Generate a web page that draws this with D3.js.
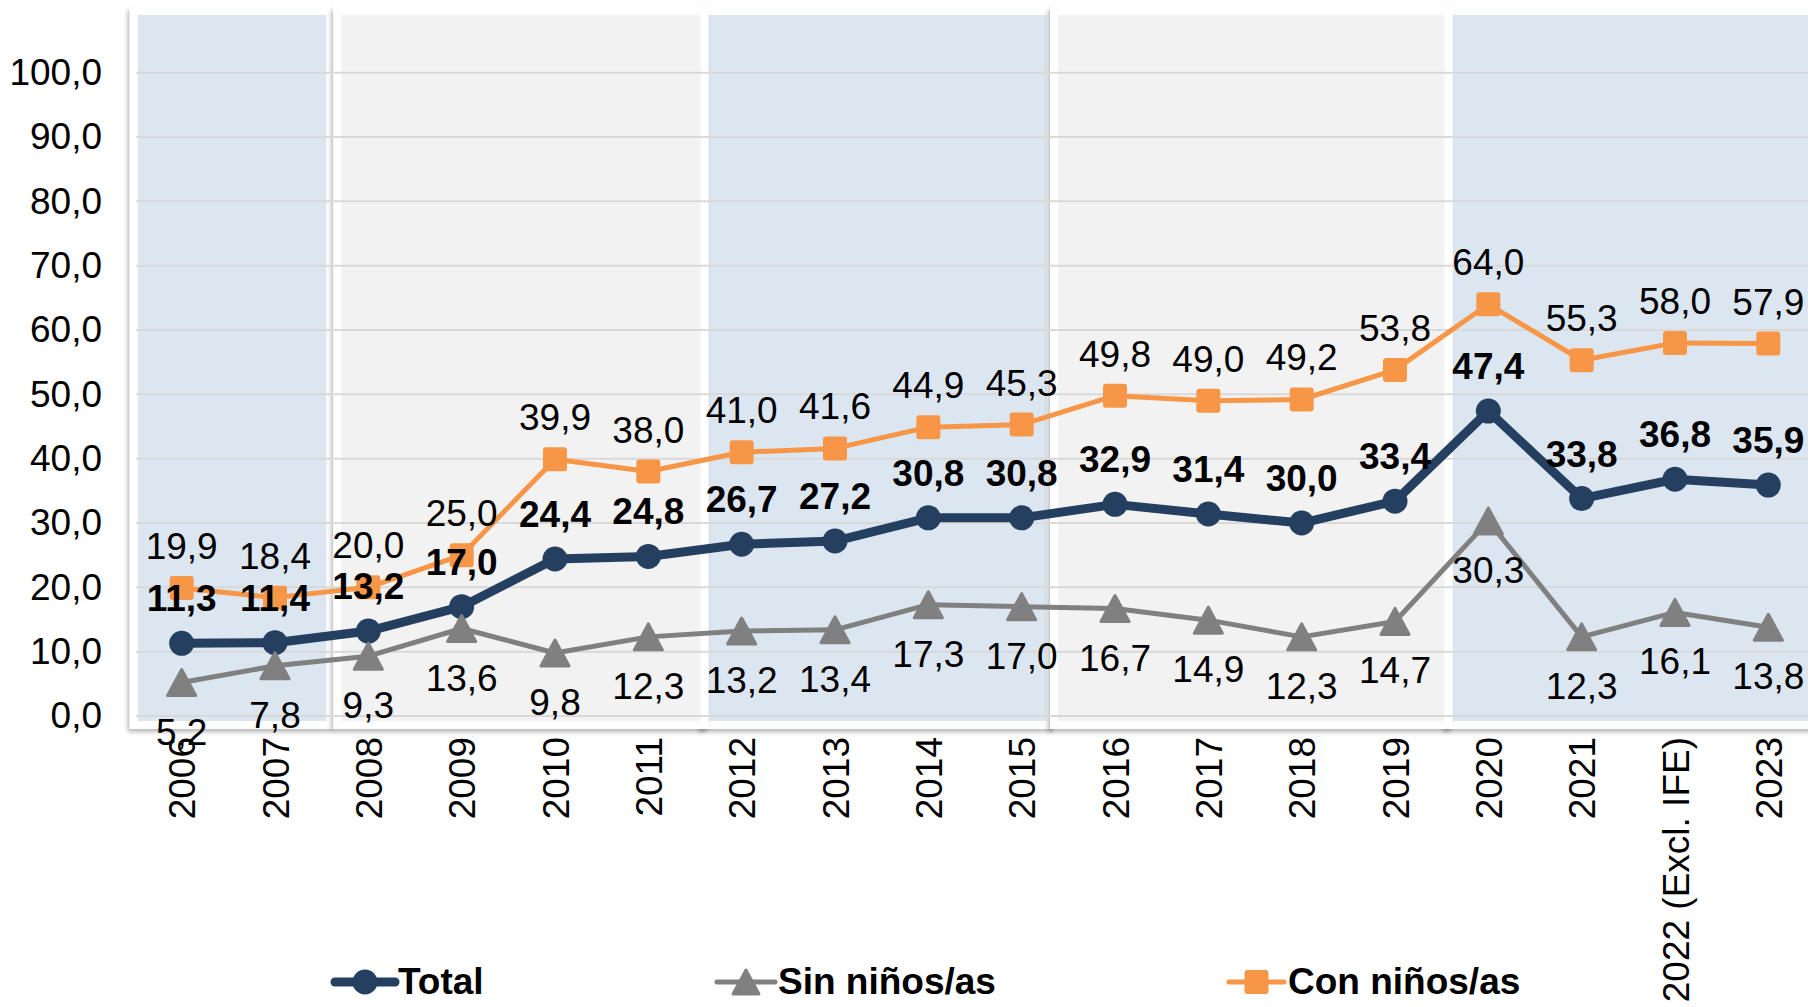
<!DOCTYPE html>
<html>
<head>
<meta charset="utf-8">
<script src="https://cdn.jsdelivr.net/npm/d3@7"></script>
<style>
  body { margin: 0; background: #fff; }
  text { font-family: "Liberation Sans", Arial, sans-serif; }
</style>
</head>
<body>
<div id="root"></div>
<script>
var years = ["2006", "2007", "2008", "2009", "2010", "2011", "2012", "2013", "2014",
  "2015", "2016", "2017", "2018", "2019", "2020", "2021", "2022 (Excl. IFE)", "2023"];
var total = [11.3, 11.4, 13.2, 17.0, 24.4, 24.8, 26.7, 27.2, 30.8, 30.8, 32.9, 31.4, 30.0, 33.4, 47.4, 33.8, 36.8, 35.9];
var sinNinos = [5.2, 7.8, 9.3, 13.6, 9.8, 12.3, 13.2, 13.4, 17.3, 17.0, 16.7, 14.9, 12.3, 14.7, 30.3, 12.3, 16.1, 13.8];
var conNinos = [19.9, 18.4, 20.0, 25.0, 39.9, 38.0, 41.0, 41.6, 44.9, 45.3, 49.8, 49.0, 49.2, 53.8, 64.0, 55.3, 58.0, 57.9];
var yTicks = [0, 10, 20, 30, 40, 50, 60, 70, 80, 90, 100];
var seriesNames = ["Total", "Sin niños/as", "Con niños/as"];

// background panels, edges in category-index units (decoration only)
var panels = [
  { from: -0.47, to: 1.55, kind: "blue" },
  { from: 5.64, to: 9.27, kind: "blue" },
  { from: 13.62, to: 17.6, kind: "blue" },
  { from: 1.71, to: 5.56, kind: "gray" },
  { from: 9.39, to: 13.53, kind: "gray" }
];

function plotChart() {
  var width = 1808;
  var height = 1007;
  var fontSize = 37;

  var svg = d3.select("#root")
    .append("svg")
    .attr("width", width)
    .attr("height", height);

  var defs = svg.append("defs");
  defs.append("filter")
    .attr("id", "shadow")
    .attr("x", "-5%").attr("y", "-5%").attr("width", "110%").attr("height", "110%")
    .append("feDropShadow")
    .attr("dx", -2).attr("dy", 3)
    .attr("stdDeviation", 2)
    .attr("flood-color", "#000")
    .attr("flood-opacity", 0.28);

  var x = d3.scalePoint().domain(years).range([135, 1815]).padding(0.5);
  var y = d3.scaleLinear().domain([0, 100]).range([716, 72.7]);
  var xi = d3.scaleLinear().domain([0, years.length - 1])
    .range([x(years[0]), x(years[years.length - 1])]);

  var colors = { total: "#243f60", sin: "#808080", con: "#f79646" };
  var fills = { blue: "#dce6f1", gray: "#f2f2f2" };

  // Panels
  var fillTop = 15, fillBottom = 721, frame = 8;
  var pg = svg.append("g");
  panels.forEach(function (p) {
    var x0 = xi(p.from), x1 = xi(p.to);
    pg.append("rect")
      .attr("x", x0 - frame).attr("y", fillTop - frame)
      .attr("width", x1 - x0 + 2 * frame).attr("height", fillBottom - fillTop + 2 * frame)
      .attr("fill", "#fff")
      .attr("filter", "url(#shadow)");
    pg.append("rect")
      .attr("x", x0).attr("y", fillTop)
      .attr("width", x1 - x0).attr("height", fillBottom - fillTop)
      .attr("fill", fills[p.kind]);
  });

  // Gridlines
  svg.append("g")
    .selectAll("line")
    .data(yTicks)
    .enter().append("line")
    .attr("x1", 136).attr("x2", width)
    .attr("y1", function (d) { return y(d); })
    .attr("y2", function (d) { return y(d); })
    .attr("stroke", "#d9d9d9")
    .attr("stroke-width", 2);

  // Y axis labels
  var fmt = function (v) { return d3.format(".1f")(v).replace(".", ","); };
  var yAxis = svg.append("g")
    .attr("transform", "translate(102,0)")
    .call(d3.axisLeft(y).tickValues(yTicks).tickSize(0).tickPadding(0).tickFormat(fmt));
  yAxis.select(".domain").remove();
  yAxis.selectAll("text")
    .attr("font-size", fontSize)
    .attr("font-family", "Liberation Sans, Arial, sans-serif")
    .attr("fill", "#000");

  // X axis labels (rotated)
  var xAxis = svg.append("g")
    .attr("transform", "translate(0,737)")
    .call(d3.axisBottom(x).tickSize(0).tickPadding(0));
  xAxis.select(".domain").remove();
  xAxis.selectAll("text")
    .attr("font-size", fontSize)
    .attr("font-family", "Liberation Sans, Arial, sans-serif")
    .attr("fill", "#000")
    .attr("text-anchor", "end")
    .attr("transform", "rotate(-90)")
    .attr("x", 0)
    .attr("y", 0)
    .attr("dy", "0.36em");

  var line = function (vals) {
    return d3.line()
      .x(function (d, i) { return x(years[i]); })
      .y(function (d) { return y(d); })(vals);
  };

  function triPath(s) {
    return "M0," + (-s) + "L" + (s * 1.08) + "," + s + "L" + (-s * 1.08) + "," + s + "Z";
  }

  // Total
  svg.append("path")
    .attr("d", line(total))
    .attr("fill", "none").attr("stroke", colors.total)
    .attr("stroke-width", 9).attr("stroke-linejoin", "round");
  svg.append("g").selectAll("circle")
    .data(total).enter().append("circle")
    .attr("cx", function (d, i) { return x(years[i]); })
    .attr("cy", function (d) { return y(d); })
    .attr("r", 12.5)
    .attr("fill", colors.total);

  // Sin niños
  svg.append("path")
    .attr("d", line(sinNinos))
    .attr("fill", "none").attr("stroke", colors.sin)
    .attr("stroke-width", 5).attr("stroke-linejoin", "round");
  svg.append("g").selectAll("path")
    .data(sinNinos).enter().append("path")
    .attr("d", triPath(13))
    .attr("transform", function (d, i) { return "translate(" + x(years[i]) + "," + y(d) + ")"; })
    .attr("fill", colors.sin).attr("stroke", colors.sin)
    .attr("stroke-width", 3).attr("stroke-linejoin", "round");

  // Con niños
  svg.append("path")
    .attr("d", line(conNinos))
    .attr("fill", "none").attr("stroke", colors.con)
    .attr("stroke-width", 5).attr("stroke-linejoin", "round");
  svg.append("g").selectAll("rect")
    .data(conNinos).enter().append("rect")
    .attr("x", function (d, i) { return x(years[i]) - 12; })
    .attr("y", function (d) { return y(d) - 12; })
    .attr("width", 24).attr("height", 24)
    .attr("rx", 3)
    .attr("fill", colors.con);

  // Data labels
  function labels(vals, dyOff, bold) {
    svg.append("g").selectAll("text")
      .data(vals).enter().append("text")
      .attr("x", function (d, i) { return x(years[i]); })
      .attr("y", function (d) { return y(d) + dyOff; })
      .attr("text-anchor", "middle")
      .attr("font-size", fontSize)
      .attr("font-weight", bold ? "bold" : "normal")
      .attr("fill", "#000")
      .text(fmt);
  }
  labels(conNinos, -29, false);
  labels(sinNinos, 62, false);
  labels(total, -32, true);

  // Legend
  var legendItems = [
    { name: seriesNames[0], color: colors.total, x0: 335, x1: 395, tx: 398, kind: "circle", w: 9 },
    { name: seriesNames[1], color: colors.sin, x0: 717, x1: 775, tx: 778, kind: "tri", w: 5 },
    { name: seriesNames[2], color: colors.con, x0: 1229, x1: 1284, tx: 1288, kind: "square", w: 5 }
  ];
  var ly = 982;
  var lg = svg.append("g");
  legendItems.forEach(function (it) {
    lg.append("line")
      .attr("x1", it.x0).attr("x2", it.x1)
      .attr("y1", ly).attr("y2", ly)
      .attr("stroke", it.color).attr("stroke-width", it.w)
      .attr("stroke-linecap", "round");
    var cx = (it.x0 + it.x1) / 2;
    if (it.kind === "circle") {
      lg.append("circle").attr("cx", cx).attr("cy", ly).attr("r", 12.5).attr("fill", it.color);
    } else if (it.kind === "tri") {
      lg.append("path").attr("d", triPath(12))
        .attr("transform", "translate(" + cx + "," + ly + ")")
        .attr("fill", it.color).attr("stroke", it.color)
        .attr("stroke-width", 3).attr("stroke-linejoin", "round");
    } else {
      lg.append("rect").attr("x", cx - 12).attr("y", ly - 12)
        .attr("width", 24).attr("height", 24).attr("rx", 3).attr("fill", it.color);
    }
    lg.append("text")
      .attr("x", it.tx).attr("y", ly + 12)
      .attr("font-size", fontSize).attr("font-weight", "bold")
      .attr("fill", "#000")
      .text(it.name);
  });
}

plotChart();
</script>
</body>
</html>
